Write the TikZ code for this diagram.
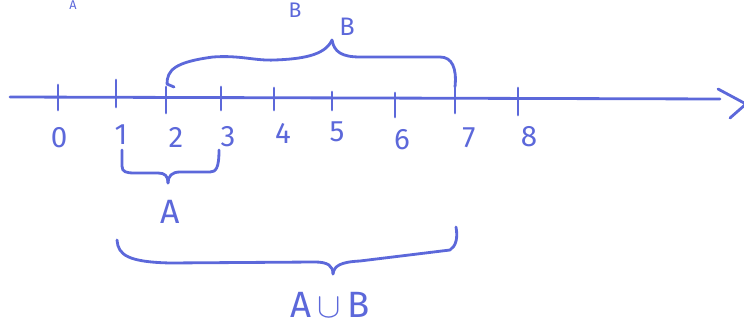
\documentclass[tikz,border=0pt]{standalone}
\usepackage{fontspec}
\setmainfont{Fira Sans}
\definecolor{pencol}{RGB}{92,104,218}
\begin{document}
\begin{tikzpicture}[x=0.025cm,y=-0.025cm,
  pen/.style={draw=pencol, line width=2pt, line cap=round, line join=round},
  lbl/.style={text=pencol, inner sep=0pt, font=\fontsize{21}{25}\selectfont}]
\useasboundingbox (0,0) rectangle (744,327);
% axis
\coordinate (axL) at (10,97);
\coordinate (axR) at (720,99);
\draw[pen] (axL) -- (axR);
\coordinate (h1) at (718,89);
\coordinate (h2) at (746,104);
\coordinate (h3) at (730,118);
\draw[pen] (h1) -- (h2) -- (h3);
% ticks and numbers
\foreach \i/\x/\a/\b/\lx/\ly in {0/58/85/110/59/138, 1/116/80/107/121/135, 2/166/87/113/176/137,
  3/221/87/110/228/137, 4/274/88/110/283/133, 5/332/92/110/337/132, 6/395/93/117/402/140,
  7/455/88/113/469/138, 8/518/88/115/529/137}{
  \coordinate (t\i a) at (\x,\a);
  \coordinate (t\i b) at (\x,\b);
  \draw[pen] (t\i a) -- (t\i b);
  \node[lbl] (n\i) at (\lx,\ly) {\i};
}
% brace B
\coordinate (bL) at (167,84);
\coordinate (bT) at (332,40);
\coordinate (bR) at (455,87);
\coordinate (bH) at (174,87);
\draw[pen] (bH) -- (bL) .. controls (167,70) and (175,62) .. (213,57)
  .. controls (240,55) and (255,61) .. (275,60)
  .. controls (300,59) and (325,56) .. (bT);
\draw[pen] (bT) .. controls (334,52) and (342,57) .. (360,57)
  -- (440,57) .. controls (452,57) and (457,68) .. (bR);
\node[lbl, font=\fontsize{18}{22}\selectfont] (lB) at (347,27) {B};
% brace A
\coordinate (aL) at (122,150);
\coordinate (aT) at (168,183);
\coordinate (aR) at (219,150);
\draw[pen] (aL) -- (122,166) .. controls (122,172) and (126,173) .. (135,173)
  -- (158,173) .. controls (165,173) and (168,176) .. (aT);
\draw[pen] (aT) .. controls (168,176) and (172,172) .. (180,172)
  -- (210,172) .. controls (216,172) and (219,168) .. (aR);
\node[lbl, font=\fontsize{24}{28}\selectfont] (lA) at (170,212) {A};
% brace A union B
\coordinate (uL) at (117,240);
\coordinate (uT) at (333,274);
\coordinate (uR) at (456,227);
\draw[pen] (uL) .. controls (118,255) and (128,262) .. (170,263)
  -- (315,262) .. controls (328,262) and (333,266) .. (uT);
\draw[pen] (uT) .. controls (334,266) and (340,262) .. (360,261)
  -- (450,250) .. controls (456,246) and (458,238) .. (uR);
\node[lbl, font=\fontsize{26}{30}\selectfont] (lU) at (330,305) {A\,$\cup$\,B};
% small labels at the top edge
\node[lbl, font=\fontsize{15}{18}\selectfont] (pB) at (295,10) {B};
\node[lbl, font=\fontsize{9}{11}\selectfont] (pA) at (73,5) {A};
\end{tikzpicture}
\end{document}
